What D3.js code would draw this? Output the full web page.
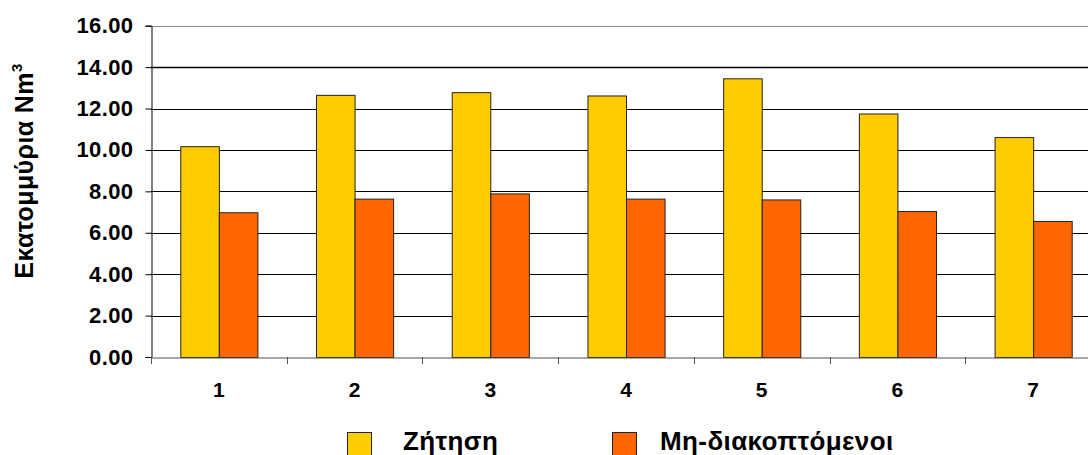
<!DOCTYPE html>
<html><head><meta charset="utf-8">
<script src="https://cdn.jsdelivr.net/npm/d3@7"></script>
<style>
html,body{margin:0;padding:0;background:#fff;overflow:hidden;}
text{font-family:"Liberation Sans",Arial,sans-serif;font-weight:bold;fill:#000;}
</style></head>
<body>
<svg id="chart" width="1088" height="455"></svg>
<script>
const categories = ["1","2","3","4","5","6","7"];
const seriesNames = ["Ζήτηση","Μη-διακοπτόμενοι"];
const demand = [10.18, 12.66, 12.79, 12.63, 13.46, 11.76, 10.62];
const uninterruptible = [6.99, 7.65, 7.90, 7.65, 7.61, 7.05, 6.57];
const yTicks = [0,2,4,6,8,10,12,14,16];
const colors = ["#FFCC00","#FF6600"];
const yTitle = "Εκατομμύρια Nm";

(function(){
const svg = d3.select("#chart");
const mLeft = 151, mRight = 1101, mTop = 25.7, mBottom = 357;

const x = d3.scaleBand().domain(categories).range([mLeft, mRight]).paddingInner(0).paddingOuter(0);
const xs = d3.scaleBand().domain(seriesNames).range([0, x.bandwidth()]).paddingInner(0).paddingOuter(0.76);
const y = d3.scaleLinear().domain([0,16]).range([mBottom, mTop]);

// gridlines
svg.append("g").selectAll("line").data(yTicks.filter(d=>d>0)).join("line")
  .attr("x1", mLeft).attr("x2", mRight)
  .attr("y1", d=>Math.round(y(d))+0.5).attr("y2", d=>Math.round(y(d))+0.5)
  .attr("stroke", d=> d===16 ? "#8c8c8c" : "#000").attr("stroke-width", d=> d===14 ? 1.5 : 1);

// bars
const data = categories.map((c,i)=>({cat:c, vals:[demand[i], uninterruptible[i]]}));
const g = svg.append("g").selectAll("g").data(data).join("g")
  .attr("transform", d=>`translate(${x(d.cat)},0)`);
g.selectAll("rect").data(d=>d.vals.map((v,j)=>({name:seriesNames[j], v, j}))).join("rect")
  .attr("x", d=>xs(d.name)+0.5)
  .attr("y", d=>y(d.v)+0.5)
  .attr("width", xs.bandwidth())
  .attr("height", d=>mBottom - y(d.v))
  .attr("fill", d=>colors[d.j])
  .attr("stroke", "#222").attr("stroke-width", 1);

// y axis
const yAxis = d3.axisLeft(y).tickValues(yTicks).tickFormat(d3.format(".2f")).tickSize(6).tickPadding(12);
const ya = svg.append("g").attr("transform", `translate(${mLeft+0.5},0)`).call(yAxis);
ya.select(".domain").attr("stroke","#000");
ya.selectAll(".tick line").attr("stroke","#000");
ya.selectAll("text").attr("font-size", 22).attr("letter-spacing", 0.4).attr("font-family","Liberation Sans, Arial, sans-serif").attr("font-weight","bold").attr("fill","#000");

// x axis
const xa = svg.append("g").attr("transform", `translate(0,${mBottom+0.5})`)
  .call(d3.axisBottom(x).tickSize(0).tickPadding(25));
xa.select(".domain").attr("stroke","#555");
xa.selectAll("text").attr("font-size", 21).attr("font-family","Liberation Sans, Arial, sans-serif").attr("font-weight","bold").attr("fill","#000");
// boundary ticks
svg.append("g").selectAll("line").data(categories).join("line")
  .attr("x1", d=>Math.round(x(d))+0.5).attr("x2", d=>Math.round(x(d))+0.5)
  .attr("y1", mBottom).attr("y2", mBottom+7).attr("stroke","#555");

// y title
const t = svg.append("text").attr("transform","translate(33,171) rotate(-90)")
  .attr("text-anchor","middle").attr("font-size",25).attr("letter-spacing",0.4);
t.append("tspan").text(yTitle);
t.append("tspan").text("3").attr("font-size",15).attr("dy",-11);

// legend
const legX = [347, 612], legTextX = [403, 660];
const lg = svg.append("g").selectAll("g").data(seriesNames).join("g");
lg.append("rect").attr("x",(d,i)=>legX[i]+0.5).attr("y",432.5).attr("width",24).attr("height",24)
  .attr("fill",(d,i)=>colors[i]).attr("stroke","#222");
lg.append("text").attr("x",(d,i)=>legTextX[i]).attr("y",450).attr("font-size",26).attr("letter-spacing",0.4).text(d=>d);
})();
</script>
</body></html>
